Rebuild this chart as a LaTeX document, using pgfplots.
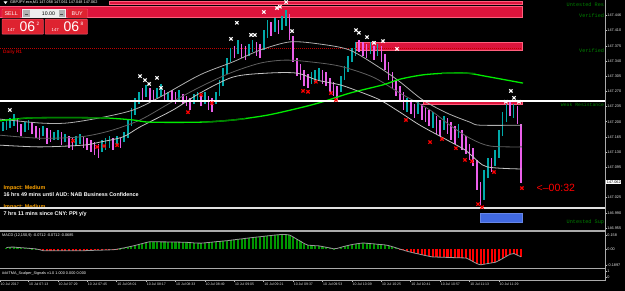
\documentclass[border=0pt]{standalone}
\usepackage{pgfplots}
\pgfplotsset{compat=1.18}
\usepackage{pgfplotstable}
\usepackage{fontspec}
\setmainfont{Liberation Sans}
\newfontfamily\monofont{Liberation Mono}
\definecolor{bull}{RGB}{0,170,170}
\definecolor{bear}{RGB}{235,95,235}
\definecolor{zonered}{RGB}{220,20,60}
\definecolor{zoneedge}{RGB}{255,95,125}
\definecolor{zoneblue}{RGB}{65,105,225}
\definecolor{limeg}{RGB}{0,235,0}
\definecolor{dkgreen}{RGB}{0,128,0}
\definecolor{tmaup}{RGB}{175,175,175}
\definecolor{tmamid}{RGB}{95,95,95}
\definecolor{tmalo}{RGB}{195,195,195}
\definecolor{macdgreen}{RGB}{0,150,0}
\definecolor{macdred}{RGB}{255,0,0}
\definecolor{sepgray}{RGB}{170,170,170}
\definecolor{lblgreen}{RGB}{0,130,0}
\definecolor{impact}{RGB}{255,165,0}
\definecolor{btnred}{RGB}{222,35,48}
\definecolor{pivred}{RGB}{190,0,0}

\pgfplotstableread{
t lo hi
-1 147.178 147.199
1 147.181 147.204
3 147.186 147.209
5 147.190 147.218
11 147.176 147.199
13 147.181 147.204
21 147.167 147.190
27 147.158 147.176
29 147.158 147.181
33 147.153 147.172
39 147.144 147.167
41 147.149 147.172
53 147.130 147.158
55 147.135 147.162
57 147.139 147.167
61 147.144 147.167
65 147.153 147.176
67 147.162 147.204
69 147.190 147.232
71 147.215 147.255
73 147.241 147.269
77 147.257 147.285
83 147.255 147.278
85 147.259 147.287
89 147.250 147.269
95 147.250 147.273
103 147.241 147.264
105 147.246 147.269
109 147.241 147.269
115 147.241 147.269
117 147.259 147.296
119 147.282 147.324
121 147.310 147.347
123 147.338 147.370
127 147.356 147.388
133 147.352 147.379
135 147.361 147.388
141 147.365 147.411
143 147.393 147.434
147 147.407 147.439
151 147.411 147.444
153 147.421 147.458
167 147.287 147.315
169 147.292 147.319
171 147.296 147.324
183 147.269 147.305
185 147.296 147.328
187 147.315 147.352
189 147.338 147.370
191 147.352 147.384
199 147.356 147.384
203 147.352 147.379
219 147.222 147.255
225 147.218 147.246
233 147.186 147.222
239 147.181 147.213
247 147.162 147.195
261 147.020 147.089
263 147.070 147.116
267 147.098 147.135
269 147.116 147.181
271 147.167 147.222
273 147.199 147.241
277 147.209 147.241
}\bulltab

\pgfplotstableread{
t lo hi
7 147.176 147.209
9 147.167 147.195
15 147.172 147.199
17 147.162 147.190
19 147.158 147.186
23 147.149 147.186
25 147.153 147.181
31 147.146 147.176
35 147.139 147.167
37 147.135 147.162
43 147.139 147.167
45 147.135 147.162
47 147.130 147.158
49 147.123 147.153
51 147.116 147.149
59 147.135 147.162
63 147.139 147.162
75 147.250 147.278
79 147.250 147.278
81 147.246 147.273
87 147.246 147.273
91 147.246 147.273
93 147.241 147.269
97 147.241 147.264
99 147.236 147.259
101 147.227 147.255
107 147.236 147.264
111 147.227 147.259
113 147.222 147.255
125 147.347 147.375
129 147.347 147.379
131 147.342 147.375
137 147.352 147.384
139 147.347 147.379
145 147.398 147.430
149 147.402 147.434
155 147.388 147.448
157 147.338 147.398
159 147.305 147.347
161 147.296 147.333
163 147.282 147.319
165 147.278 147.310
173 147.287 147.319
175 147.282 147.315
177 147.269 147.301
179 147.259 147.292
181 147.250 147.282
193 147.361 147.388
195 147.352 147.384
197 147.347 147.379
201 147.342 147.375
205 147.338 147.375
207 147.319 147.356
209 147.296 147.338
211 147.278 147.315
213 147.259 147.296
215 147.246 147.282
217 147.227 147.269
221 147.218 147.250
223 147.209 147.241
227 147.204 147.241
229 147.199 147.232
231 147.190 147.227
235 147.172 147.213
237 147.167 147.204
241 147.172 147.209
243 147.158 147.199
245 147.149 147.190
249 147.135 147.181
251 147.126 147.167
253 147.112 147.149
255 147.098 147.139
257 147.043 147.112
259 147.008 147.061
265 147.084 147.116
275 147.213 147.250
279 147.195 147.236
281 147.059 147.195
}\beartab

\pgfplotstableread{
t v
1 0.017
3 0.021
5 0.022
7 0.018
9 0.015
11 0.012
13 0.008
15 0.005
17 0.001
19 -0.008
21 -0.020
23 -0.020
25 -0.020
27 -0.020
29 -0.020
31 -0.020
33 -0.020
35 -0.020
37 -0.020
39 -0.020
41 -0.020
43 -0.020
45 -0.018
47 -0.017
49 -0.015
51 -0.014
53 -0.013
55 -0.011
57 -0.010
59 -0.009
61 -0.003
63 0.005
65 0.013
67 0.022
69 0.031
71 0.041
73 0.052
75 0.063
77 0.074
79 0.084
81 0.083
83 0.083
85 0.082
87 0.082
89 0.081
91 0.080
93 0.080
95 0.079
97 0.078
99 0.077
101 0.074
103 0.070
105 0.068
107 0.067
109 0.071
111 0.075
113 0.079
115 0.084
117 0.087
119 0.092
121 0.095
123 0.101
125 0.106
127 0.112
129 0.116
131 0.122
133 0.127
135 0.132
137 0.137
139 0.141
141 0.146
143 0.151
145 0.155
147 0.160
149 0.164
151 0.168
153 0.166
155 0.161
157 0.138
159 0.113
161 0.089
163 0.063
165 0.044
167 0.041
169 0.038
171 0.036
173 0.028
175 0.020
177 0.012
179 0.002
181 0.007
183 0.020
185 0.031
187 0.041
189 0.051
191 0.058
193 0.064
195 0.069
197 0.066
199 0.062
201 0.059
203 0.054
205 0.051
207 0.047
209 0.039
211 0.026
213 0.014
215 -0.001
217 -0.013
219 -0.026
221 -0.037
223 -0.047
225 -0.056
227 -0.066
229 -0.075
231 -0.084
233 -0.092
235 -0.093
237 -0.094
239 -0.095
241 -0.097
243 -0.098
245 -0.100
247 -0.101
249 -0.102
251 -0.103
253 -0.123
255 -0.146
257 -0.169
259 -0.182
261 -0.175
263 -0.167
265 -0.160
267 -0.153
269 -0.133
271 -0.109
273 -0.085
275 -0.062
277 -0.052
279 -0.071
281 -0.090
}\macdtab

\pgfplotsset{mt/.style={
  scale only axis, width=605pt, anchor=south west,
  xmin=-2.5, xmax=326.7,
  axis line style={draw=none},
  xtick=\empty,
  ytick pos=right, yticklabel pos=right, ytick align=outside,
  major tick length=1.8pt,
  tick style={draw=white!75!black, line width=0.5pt},
  yticklabel style={font=\fontsize{3.8}{4.2}\selectfont, text=white!92!black, inner sep=0.4pt},
}}

\begin{document}
\begin{tikzpicture}
\fill[black] (0,0) rectangle (625pt,291pt);

% news texts (behind the support line)
\begin{scope}[x=1pt, y=-1pt, shift={(0pt,291pt)}]
\node[anchor=west, inner sep=0, text=impact, font=\bfseries\fontsize{5.4}{6}\selectfont] at (3.5,188) {Impact: Medium};
\node[anchor=west, inner sep=0, text=white, font=\bfseries\fontsize{5.4}{6}\selectfont] at (3.5,194.5) {16 hrs 49 mins until AUD: NAB Business Confidence};
\node[anchor=west, inner sep=0, text=impact, font=\bfseries\fontsize{5.4}{6}\selectfont] at (3.5,207.5) {Impact: Medium};
\node[anchor=west, inner sep=0, text=white, font=\bfseries\fontsize{5.4}{6}\selectfont] at (3.5,214.5) {7 hrs 11 mins since CNY: PPI y/y};
\end{scope}

% ---------- main price window ----------
\begin{axis}[mt, at={(0pt,61pt)}, height=230pt,
  ymin=146.9504, ymax=147.4806,
  ytick={146.955,146.990,147.025,147.095,147.130,147.165,147.200,147.235,147.270,147.305,147.340,147.375,147.410,147.446},
  yticklabels={146.955,146.990,147.025,147.095,147.130,147.165,147.200,147.235,147.270,147.305,147.340,147.375,147.410,147.446}]
% zones
\addplot[fill=zonered, draw=zoneedge, line width=0.5pt] coordinates {(57,147.477) (281.5,147.477) (281.5,147.471) (57,147.471)} -- cycle;
\addplot[fill=zonered, draw=zoneedge, line width=0.6pt] coordinates {(-3,147.467) (281.5,147.467) (281.5,147.441) (-3,147.441)} -- cycle;
\addplot[fill=zonered, draw=zoneedge, line width=0.6pt] coordinates {(191.2,147.384) (281.5,147.384) (281.5,147.365) (191.2,147.365)} -- cycle;
\addplot[fill=zonered, draw=zoneedge, line width=0.5pt] coordinates {(227.6,147.250) (281.5,147.250) (281.5,147.241) (227.6,147.241)} -- cycle;
\addplot[fill=zoneblue, draw=zoneblue!80!white, line width=0.5pt] coordinates {(258.7,146.990) (281.5,146.990) (281.5,146.969) (258.7,146.969)} -- cycle;
% daily R1 pivot
\addplot[pivred, line width=0.7pt, dash pattern=on 1pt off 1pt] coordinates {(-2.5,147.370) (281.5,147.370)};
% candles
\addplot[draw=none, mark=none, error bars/.cd, y dir=plus, y explicit, error mark=none,
  error bar style={draw=bull, line width=1.6pt}]
  table[x=t, y=lo, y error plus expr=\thisrow{hi}-\thisrow{lo}] {\bulltab};
\addplot[draw=none, mark=none, error bars/.cd, y dir=plus, y explicit, error mark=none,
  error bar style={draw=bear, line width=1.6pt}]
  table[x=t, y=lo, y error plus expr=\thisrow{hi}-\thisrow{lo}] {\beartab};
% TMA bands
\addplot[tmaup, line width=0.8pt, smooth] coordinates {(-2.5,147.206) (19.3,147.197) (34.0,147.197) (51.9,147.209) (69.9,147.227) (84.6,147.257) (106.3,147.308) (124.3,147.338) (139.0,147.365) (155.3,147.384) (171.6,147.379) (187.9,147.365) (204.3,147.324) (215.1,147.292) (227.6,147.250) (240.7,147.220) (253.2,147.199) (258.7,147.192) (281.5,147.192)};
\addplot[tmamid, line width=0.8pt, smooth] coordinates {(-2.5,147.169) (19.3,147.162) (41.0,147.165) (57.3,147.179) (73.7,147.204) (90.0,147.243) (106.3,147.280) (122.6,147.312) (139.0,147.335) (152.6,147.342) (166.2,147.338) (182.5,147.328) (200.4,147.303) (215.1,147.266) (231.5,147.227) (242.3,147.192) (253.2,147.162) (264.1,147.144) (281.5,147.142)};
\addplot[tmalo, line width=0.8pt, smooth] coordinates {(-2.5,147.146) (19.3,147.142) (42.7,147.146) (51.9,147.153) (64.4,147.165) (73.7,147.188) (91.6,147.227) (106.3,147.266) (124.3,147.303) (142.8,147.312) (159.1,147.312) (170.0,147.296) (182.5,147.285) (193.3,147.269) (204.3,147.250) (215.1,147.222) (226.0,147.192) (240.7,147.158) (250.5,147.135) (254.9,147.119) (262.5,147.096) (281.5,147.091)};
% long-period average
\addplot[limeg, line width=1.3pt, smooth] coordinates {(-2.5,147.202) (15.5,147.209) (51.9,147.209) (69.9,147.204) (79.1,147.199) (106.3,147.199) (124.3,147.204) (142.8,147.215) (160.7,147.232) (173.2,147.246) (187.9,147.266) (205.9,147.285) (215.1,147.298) (227.6,147.308) (240.7,147.312) (251.6,147.312) (264.1,147.303) (282.1,147.289)};
\addplot[dkgreen, line width=1.3pt, smooth] coordinates {(8,147.207) (15.5,147.209) (51.9,147.209) (57,147.208)};
\addplot[dkgreen, line width=1.3pt, smooth] coordinates {(110,147.199) (124.3,147.204) (131,147.207)};
\addplot[dkgreen, line width=1.3pt, smooth] coordinates {(238,147.312) (251.6,147.312) (256,147.311)};
% horizontal levels
\addplot[white, line width=1.8pt] coordinates {(-2.5,147.248) (326.7,147.248)};
\addplot[white!88!black, line width=1.1pt] coordinates {(-2.5,147.001) (326.7,147.001)};
% signals
\addplot[only marks, mark=x, mark size=2.3pt, white, mark options={line width=1.1pt}] coordinates {(2.9,147.227) (73.7,147.305) (76.4,147.296) (78.6,147.287) (82.9,147.301) (85.1,147.278) (123.2,147.391) (126.4,147.428) (134.1,147.400) (136.2,147.400) (141.1,147.453) (148.2,147.462) (149.8,147.465) (153.2,147.476) (156.4,147.409) (191.2,147.411) (192.8,147.405) (197.2,147.395) (201.0,147.382) (205.9,147.386) (213.5,147.368) (272.8,147.246) (275.5,147.271) (277.2,147.255) (279.9,147.246)};
\addplot[only marks, mark=x, mark size=2.3pt, red, mark options={line width=1.2pt}] coordinates {(37.2,147.156) (50.3,147.142) (54.1,147.144) (61.2,147.146) (99.8,147.222) (106.9,147.262) (112.8,147.243) (162.4,147.271) (165.1,147.269) (169.4,147.292) (177.6,147.266) (180.3,147.250) (218.4,147.204) (231.5,147.153) (238.0,147.160) (245.6,147.139) (250.5,147.112) (254.3,147.109) (257.6,147.010) (259.8,147.003) (266.3,147.084) (281.5,147.047)};
\end{axis}

% ---------- MACD window ----------
\begin{axis}[mt, at={(0pt,24pt)}, height=35pt, ymin=-0.207, ymax=0.1955,
  ytick={-0.1897,0,0.158}, yticklabels={-0.1897,0.00,0.158}]
\addplot[ycomb, macdgreen, line width=2.1pt, restrict y to domain=0:1, unbounded coords=discard] table[x=t,y=v] {\macdtab};
\addplot[ycomb, macdred, line width=2.1pt, restrict y to domain=-1:0, unbounded coords=discard] table[x=t,y=v] {\macdtab};
\addplot[white!60!black, line width=0.8pt, smooth] table[x=t,y=v] {\macdtab};
\end{axis}

% ---------- TMA signals window + time axis ----------
\begin{axis}[mt, at={(0pt,10.5pt)}, height=11.5pt, ymin=-0.46, ymax=1.385,
  ytick={0,1}, yticklabels={0,1},
  xtick={-2.5,13,29,45,61,77,93,109,125,141,157,173,189,205,221,237,253,269},
  xticklabels={10 Jul 2017,10 Jul 07:13,10 Jul 07:29,10 Jul 07:45,10 Jul 08:01,10 Jul 08:17,10 Jul 08:33,10 Jul 08:49,10 Jul 09:05,10 Jul 09:21,10 Jul 09:37,10 Jul 09:53,10 Jul 10:09,10 Jul 10:25,10 Jul 10:41,10 Jul 10:57,10 Jul 11:13,10 Jul 11:29},
  xtick pos=bottom, xtick align=outside,
  xticklabel style={anchor=north west, inner sep=0.5pt, font=\fontsize{3.5}{4}\selectfont, text=white!88!black}]
\addplot[draw=none] coordinates {(0,0) (1,0)};
\end{axis}

% ---------- overlays in pixel coordinates ----------
\begin{scope}[x=1pt, y=-1pt, shift={(0pt,291pt)}]
% frame
\draw[sepgray, line width=0.8pt] (605,0) -- (605,281);
\draw[sepgray, line width=1.3pt] (0,231) -- (605,231);
\draw[sepgray, line width=1.3pt] (0,268.2) -- (605,268.2);
\draw[sepgray, line width=1.0pt] (0,280.8) -- (605,280.8);
% header
\fill[white] (3.5,1.3) -- (7.5,1.3) -- (5.5,4) -- cycle;
\node[anchor=west, inner sep=0, text=white, font=\fontsize{3.8}{4}\selectfont] at (10,2.7) {GBPJPY.ecn,M1 147.058 147.061 147.048 147.062};
% one-click trading panel
\fill[btnred, draw=zoneedge, line width=0.4pt, rounded corners=0.6pt] (2,9) rectangle (20.5,18);
\node[text=white, inner sep=0, font=\fontsize{5.4}{6}\selectfont] at (11.2,13.6) {SELL};
\fill[white!93!black] (22,9.3) rectangle (66,17.6);
\fill[white!70!black] (23,10) rectangle (29.5,17);
\fill[white!70!black] (58.5,10) rectangle (65,17);
\fill[black!70] (24.7,13.9) rectangle (27.8,14.5);
\fill[black!70] (60.2,13.9) rectangle (63.3,14.5);
\node[text=black, inner sep=0, font=\fontsize{5.2}{6}\selectfont] at (48.5,13.5) {10.00};
\fill[btnred, draw=zoneedge, line width=0.4pt, rounded corners=0.6pt] (67,9) rectangle (87.5,18);
\node[text=white, inner sep=0, font=\fontsize{5.4}{6}\selectfont] at (77.2,13.6) {BUY};
\fill[btnred, draw=zoneedge, line width=0.4pt, rounded corners=0.6pt] (2,19.2) rectangle (43.5,34.2);
\fill[btnred, draw=zoneedge, line width=0.4pt, rounded corners=0.6pt] (45,19.2) rectangle (87.5,34.2);
\node[anchor=base west, text=white, inner sep=0, font=\fontsize{4.3}{5}\selectfont] at (7.5,31.5) {147};
\node[anchor=base west, text=white, inner sep=0, font=\fontsize{14}{14}\selectfont] at (19.5,32) {06};
\node[anchor=base west, text=white, inner sep=0, font=\fontsize{4.8}{5}\selectfont] at (36.3,25.5) {2};
\node[anchor=base west, text=white, inner sep=0, font=\fontsize{4.3}{5}\selectfont] at (51.5,31.5) {147};
\node[anchor=base west, text=white, inner sep=0, font=\fontsize{14}{14}\selectfont] at (63.5,32) {06};
\node[anchor=base west, text=white, inner sep=0, font=\fontsize{4.8}{5}\selectfont] at (80.3,25.5) {8};
% pivot label
\node[anchor=west, inner sep=0, text=pivred, font=\bfseries\fontsize{4.8}{5}\selectfont] at (3,52) {Daily R1};
% countdown
\node[anchor=west, inner sep=0, text=red, font=\fontsize{10.5}{11}\selectfont] at (536.5,188) {<--00:32};
% current price box
\node[anchor=west, fill=white, text=black, inner sep=0.5pt, font=\fontsize{3.8}{4.2}\selectfont] at (606.2,182) {147.062};
% sub-window captions
\node[anchor=west, inner sep=0, text=white, font=\fontsize{3.8}{4}\selectfont] at (2,236) {MACD (12,150,9) -0.0712 -0.0712 -0.0685};
\node[anchor=west, inner sep=0, text=white, font=\fontsize{3.8}{4}\selectfont] at (2,273.6) {\#\#\#TMA\_Scalper\_Signals v1.0 1.000 0.000 0.000};
% zone labels (as far as they show before the price scale)
\node[anchor=east, inner sep=0, text=lblgreen, font=\monofont\fontsize{5.2}{5.5}\selectfont] at (604.3,4.6) {Untested Res};
\node[anchor=east, inner sep=0, text=lblgreen, font=\monofont\fontsize{5.2}{5.5}\selectfont] at (604.3,15.5) {Verified};
\node[anchor=east, inner sep=0, text=lblgreen, font=\monofont\fontsize{5.2}{5.5}\selectfont] at (604.3,50.3) {Verified};
\node[anchor=east, inner sep=0, text=lblgreen, font=\monofont\fontsize{4.8}{5.2}\selectfont] at (604.3,104.6) {Weak Resistance};
\node[anchor=east, inner sep=0, text=lblgreen, font=\monofont\fontsize{5.2}{5.5}\selectfont] at (604.3,222.6) {Untested Sup};
\end{scope}
\pgfresetboundingbox
\useasboundingbox (0,0) rectangle (625pt,291pt);
\end{tikzpicture}
\end{document}
